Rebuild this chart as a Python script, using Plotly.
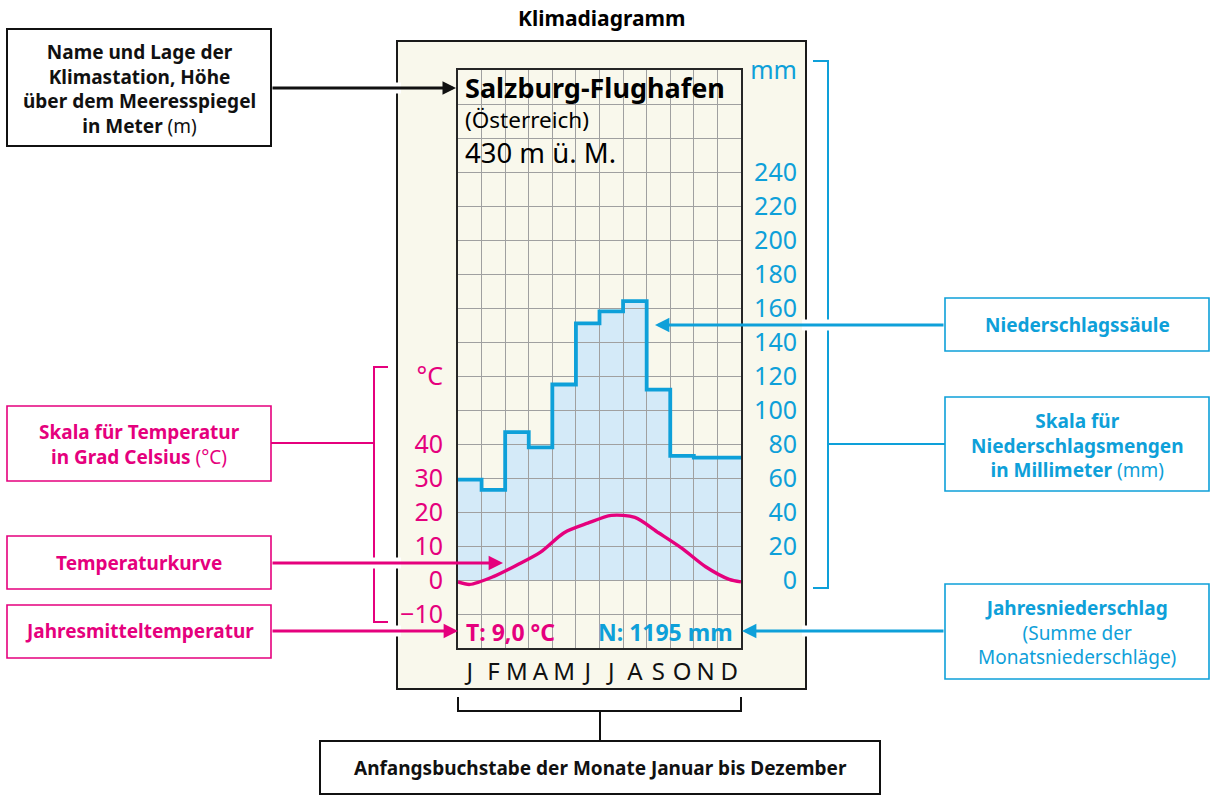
import plotly.graph_objects as go

W, H = 1216, 799

# ---------------- data ----------------
months = ["J", "F", "M", "A", "M", "J", "J", "A", "S", "O", "N", "D"]
precip_mm = [59, 53, 87, 78, 115, 151, 158, 164, 112, 73, 72, 72]
temp_c = [-1.3, 1.0, 4.4, 8.2, 13.9, 16.7, 19.0, 18.4, 13.9, 9.3, 3.9, 0.2]
temp_tick_vals = [-10, 0, 10, 20, 30, 40]
mm_tick_vals = [0, 20, 40, 60, 80, 100, 120, 140, 160, 180, 200, 220, 240]
station = "Salzburg-Flughafen"
country = "(Österreich)"
altitude = "430 m ü. M."
annual_temp = "9,0"
annual_precip = 1195

# ---------------- styles ----------------
MAG = "#e5007d"
BLUE = "#0ea0d9"
FILL = "#d4eaf8"
GRID = "#a0a0a0"
BEIGE = "#f9f8ec"
FONT = "Noto Sans"

def X(p):
    return p / W

def Y(p):
    return 1 - p / H

x_rng = [-0.5, 11.5]
mm_rng = [-40, 300]
t_rng = [-20, 150]

fig = go.Figure()

# precipitation step outline (mm axis)
step_x = [i - 0.5 for i in range(len(precip_mm))] + [len(precip_mm) - 0.5]
step_y = precip_mm + [precip_mm[-1]]
fig.add_trace(go.Scatter(x=step_x, y=step_y, mode="lines",
                         line=dict(shape="hv", width=3.8, color=BLUE),
                         hoverinfo="skip", xaxis="x", yaxis="y"))

# temperature curve (wrapped at year edges)
edge = (temp_c[0] + temp_c[-1]) / 2
tx = [-0.5] + list(range(len(temp_c))) + [len(temp_c) - 0.5]
ty = [edge] + temp_c + [edge]
fig.add_trace(go.Scatter(x=tx, y=ty, mode="lines",
                         line=dict(shape="spline", smoothing=0.8, width=3.4, color=MAG),
                         hoverinfo="skip", xaxis="x", yaxis="y2"))

# ---------------- axes ----------------
mm_grid = list(range(mm_rng[0], mm_rng[1] + 1, 20))
mm_text = [str(v) if v in mm_tick_vals else ("mm" if v == mm_rng[1] else "") for v in mm_grid]

t_vals = temp_tick_vals + [60]
t_text = [("−" + str(-v)) if v < 0 else str(v) for v in temp_tick_vals] + ["°C"]

dom_x = [X(458), X(741)]
dom_y = [Y(648), Y(70)]

fig.update_layout(
    width=W, height=H, autosize=False,
    margin=dict(l=0, r=0, t=0, b=0, pad=0),
    paper_bgcolor="white", plot_bgcolor="white",
    showlegend=False,
    font=dict(family=FONT, color="black"),
    xaxis=dict(domain=dom_x, range=x_rng, anchor="y", automargin=False,
               tickmode="array", tickvals=list(range(12)), ticktext=months,
               tickfont=dict(size=24, color="#111"), ticks="", ticklabelstandoff=1,
               showgrid=False, zeroline=False,
               minor=dict(tickmode="array", tickvals=[i - 0.5 for i in range(13)],
                          showgrid=True, gridcolor=GRID, gridwidth=1.3, ticks=""),
               showline=True, mirror=True, linecolor="#262626", linewidth=2),
    yaxis=dict(domain=dom_y, range=mm_rng, anchor="free", position=X(797), side="left",
               automargin=False,
               tickmode="array", tickvals=mm_grid, ticktext=mm_text,
               tickfont=dict(size=25, color=BLUE), ticks="", ticklabelstandoff=0,
               showgrid=True, gridcolor=GRID, gridwidth=1.3, zeroline=False,
               showline=False),
    yaxis2=dict(range=t_rng, overlaying="y", anchor="x", side="left", automargin=False,
                tickmode="array", tickvals=t_vals, ticktext=t_text,
                tickfont=dict(size=25, color=MAG), ticks="", ticklabelstandoff=8,
                showgrid=False, zeroline=False,
                showline=True, mirror=True, linecolor="#262626", linewidth=2),
)

# ---------------- shapes ----------------
shapes = []
# beige frame
shapes.append(dict(type="rect", xref="paper", yref="paper", layer="below",
                   x0=X(397), x1=X(806), y0=Y(689), y1=Y(41),
                   fillcolor=BEIGE, line=dict(color="#1a1a1a", width=2)))

# precipitation area, in data coordinates, below the grid lines
path = "M {},0".format(step_x[0])
for i, v in enumerate(precip_mm):
    path += " L {},{} L {},{}".format(step_x[i], v, step_x[i + 1], v)
path += " L {},0 Z".format(step_x[-1])
shapes.append(dict(type="path", xref="x", yref="y", layer="below", path=path,
                   fillcolor=FILL, line=dict(width=0)))

def box(x0, y0, x1, y1, color, w=1.6):
    shapes.append(dict(type="rect", xref="paper", yref="paper",
                       x0=X(x0), x1=X(x1), y0=Y(y1), y1=Y(y0),
                       fillcolor="white", line=dict(color=color, width=w)))

def seg(x0, y0, x1, y1, color, w=2):
    shapes.append(dict(type="line", xref="paper", yref="paper",
                       x0=X(x0), x1=X(x1), y0=Y(y0), y1=Y(y1),
                       line=dict(color=color, width=w)))

box(7, 29, 271, 146, "#111", 2)
box(7, 406, 271, 481, MAG)
box(7, 536, 271, 589, MAG)
box(7, 605, 271, 658, MAG)
box(945, 298, 1209, 351, BLUE)
box(945, 397, 1209, 491, BLUE)
box(945, 584, 1209, 679, BLUE)
box(320, 741, 880, 794, "#111", 2)

# left bracket (temperature scale)
seg(271, 443, 374, 443, MAG)
seg(374, 367, 374, 622, MAG)
seg(373, 367, 388, 367, MAG)
seg(373, 622, 388, 622, MAG)
# right bracket (precipitation scale)
seg(945, 444, 828, 444, BLUE)
seg(828, 61, 828, 588, BLUE)
seg(813, 61, 829, 61, BLUE)
seg(813, 588, 829, 588, BLUE)
# bottom bracket (months)
seg(458, 697, 458, 711, "#111")
seg(741, 697, 741, 711, "#111")
seg(457, 711, 742, 711, "#111")
seg(600, 711, 600, 741, "#111")

# white halos where arrows cross frame / brackets
for (hx, hy) in [(397, 88), (374, 563), (397, 563), (397, 631), (806, 325), (828, 325), (806, 631)]:
    seg(hx - 4, hy, hx + 4, hy, "white", 11)

fig.update_layout(shapes=shapes)

# ---------------- annotations ----------------
ann = []

def txt(x, y, s, size, color="black", xanchor="center"):
    ann.append(dict(x=X(x), y=Y(y), xref="paper", yref="paper", text=s,
                    showarrow=False, xanchor=xanchor, yanchor="middle", align="center",
                    font=dict(size=size, color=color, family=FONT)))

def arrow(x_tail, x_head, y, color, w=3):
    ann.append(dict(x=X(x_head), y=Y(y), xref="paper", yref="paper", text="",
                    showarrow=True, ax=x_tail - x_head, ay=0, axref="pixel", ayref="pixel",
                    arrowhead=2, arrowsize=0.9, arrowwidth=w, arrowcolor=color, standoff=0))

BS = 19
txt(601, 18, "<b>Klimadiagramm</b>", 21)

txt(139, 89, "<b>Name und Lage der</b><br><b>Klimastation, Höhe</b><br>"
             "<b>über dem Meeresspiegel</b><br><b>in Meter</b> (m)", BS, "#111")
txt(139, 444, "<b>Skala für Temperatur</b><br><b>in Grad Celsius</b> (°C)", BS, MAG)
txt(139, 563, "<b>Temperaturkurve</b>", BS, MAG)
txt(139, 631, "<b>Jahresmitteltemperatur</b>", BS, MAG)
txt(1077, 325, "<b>Niederschlagssäule</b>", BS, BLUE)
txt(1077, 445, "<b>Skala für</b><br><b>Niederschlagsmengen</b><br><b>in Millimeter</b> (mm)", BS, BLUE)
txt(1077, 632, "<b>Jahresniederschlag</b><br>(Summe der<br>Monatsniederschläge)", BS, BLUE)
txt(600, 768, "<b>Anfangsbuchstabe der Monate Januar bis Dezember</b>", BS, "#111")

# station header inside the plot
txt(463, 88, "<b>" + station + "</b>", 27, "black", "left")
txt(463, 119, country, 22.5, "black", "left")
txt(463, 153, altitude, 27.5, "black", "left")
# annual values
txt(464, 632, "<b>T: " + annual_temp + " °C</b>", 23, MAG, "left")
ann.append(dict(x=X(735), y=Y(632), xref="paper", yref="paper",
                text="<b>N: " + str(annual_precip) + " mm</b>", showarrow=False,
                xanchor="right", yanchor="middle", font=dict(size=23, color=BLUE, family=FONT)))

arrow(271, 456, 88, "#111")
arrow(271, 503, 563, MAG, 3.2)
arrow(271, 458, 631, MAG, 3.2)
arrow(945, 655, 325, BLUE, 3.2)
arrow(945, 742, 631, BLUE, 3.2)

fig.update_layout(annotations=ann)

fig.write_html("out.html", config={"responsive": False, "displayModeBar": False},
               post_script="document.body.style.margin='0px';document.body.style.overflow='hidden';")
